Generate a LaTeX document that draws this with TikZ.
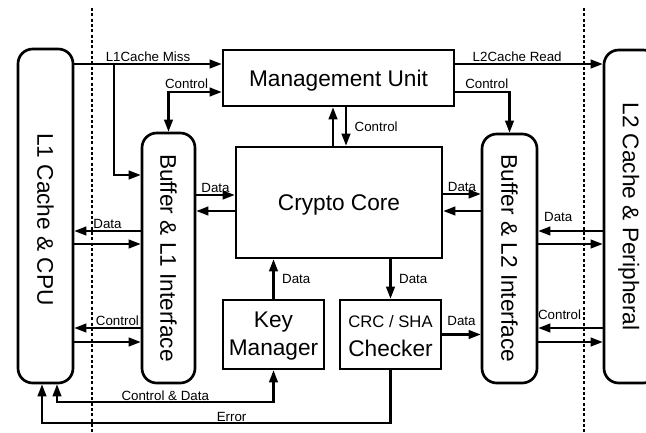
\documentclass[tikz,border=0pt]{standalone}
\usepackage{fontspec}
\setmainfont{Liberation Sans}
\usepackage{tikz}
\tikzset{
  every node/.style = {
    inner sep = 0pt,
    outer sep = 0pt
  }
}
\usetikzlibrary{
arrows.meta,
calc,
fit
}

\begin{document}
\begin{tikzpicture}[
        x = 0.75pt,
        y = -0.75pt,
        unit box/.style={
          draw,
          line width = 2pt,
          outer sep = 1pt,
        },
        rounded box/.style={
          unit box,
          rounded corners = 11pt,
        },
        big text/.style={
          font = \fontsize{17}{21}\selectfont,
        },
        big line/.style={
          big text,
          text depth = 0pt,
        },
        link label/.style={
          font = \fontsize{10}{12}\selectfont,
        },
        link/.style={
          line width = 1.6pt,
          -{Triangle[length=9pt,width=6.5pt]},
        },
        both link/.style={
          line width = 1.6pt,
          {Triangle[length=9pt,width=6.5pt]}-{Triangle[length=9pt,width=6.5pt]},
        },
        boundary/.style={
          line width = 2.2pt,
          dash pattern = on 2.2pt off 1.8pt,
        },
        ]
        \useasboundingbox (0,0) rectangle (646,432);
        \clip (0,0) rectangle (646,432);

        \draw [boundary] (92,8) -- (92,432);
        \draw [boundary] (584,8) -- (584,432);

        \node [rounded box, fit={(18,49) (73,383)}] (node-l1) {};
        \node [big line, rotate=-90] (node-l1-text) at ($(node-l1)+(0,3.5)$) {L1 Cache \& CPU};
        \node [rounded box, fit={(604,50) (658,383)}] (node-l2) {};
        \node [big line, rotate=-90] (node-l2-text) at (node-l2) {L2 Cache \& Peripheral};
        \node [rounded box, fit={(142,133) (195,383)}] (node-buf1) {};
        \node [big line, rotate=-90] (node-buf1-text) at (node-buf1) {Buffer \& L1 Interface};
        \node [rounded box, fit={(482,134) (537,383)}] (node-buf2) {};
        \node [big line, rotate=-90] (node-buf2-text) at (node-buf2) {Buffer \& L2 Interface};

        \node [unit box, fit={(223,50) (454,106)}] (node-mgmt) {};
        \node [big line] (node-mgmt-text) at (node-mgmt) {Management Unit};
        \node [unit box, fit={(236,147) (442,258)}] (node-core) {};
        \node [big line] (node-core-text) at (node-core) {Crypto Core};
        \node [unit box, fit={(223,300) (324,369)}] (node-key) {};
        \node [big text, align=center, yshift=-1.5pt] (node-key-text) at (node-key) {Key\\Manager};
        \node [unit box, fit={(340,300) (441,369)}] (node-check) {};
        \node [big text, align=center, yshift=-1pt] (node-check-text) at (node-check)
        {\mbox{\fontsize{12.5}{15}\selectfont CRC / SHA}\\[1pt]Checker};

        % management unit
        \draw [link] (node-l1.east |- 0,64) -- (node-mgmt.west |- 0,64)
        node [link label, midway, above=1.5pt] {L1Cache Miss};
        \coordinate (miss-split) at (114,64);
        \draw [link] (miss-split) |- (node-buf1.west |- 0,175);
        \draw [both link] (node-buf1.north) |- (node-mgmt.west |- 0,92)
        node [link label, pos=0.67, above=2.5pt] {Control};
        \draw [link] (node-core.north -| 333,0) -- (node-mgmt.south -| 333,0);
        \draw [link] (node-mgmt.south -| 346,0) -- (node-core.north -| 346,0)
        node [link label, midway, right=6.5pt] {Control};
        \draw [link] (node-mgmt.east |- 0,64) -- (node-l2.west |- 0,64)
        node [link label, pos=0.42, above=1.5pt] {L2Cache Read};
        \draw [link] (node-mgmt.east |- 0,92) -| (node-buf2.north)
        node [link label, pos=0.29, above=2.5pt] {Control};

        % crypto core
        \draw [link] (node-buf1.east |- 0,195) -- (node-core.west |- 0,195)
        node [link label, midway, above=2pt] {Data};
        \draw [link] (node-core.west |- 0,211) -- (node-buf1.east |- 0,211);
        \draw [link] (node-core.east |- 0,194) -- (node-buf2.west |- 0,194)
        node [link label, midway, above=2pt] {Data};
        \draw [link] (node-buf2.west |- 0,211) -- (node-core.east |- 0,211);
        \draw [link] (node-key.north) -- (node-core.south -| node-key.north)
        node [link label, midway, right=6.5pt] {Data};
        \draw [link] (node-core.south -| node-check.north) -- (node-check.north)
        node [link label, midway, right=6.5pt] {Data};
        \draw [link] (node-check.east) -- (node-buf2.west |- node-check.east)
        node [link label, midway, above=7pt] {Data};

        % L1 side
        \draw [link] (node-buf1.west |- 0,231) -- (node-l1.east |- 0,231)
        node [link label, midway, above=2pt] {Data};
        \draw [link] (node-l1.east |- 0,244) -- (node-buf1.west |- 0,244);
        \draw [link] (node-buf1.west |- 0,328) -- (node-l1.east |- 0,328)
        node [link label, pos=0.35, above=2pt] {Control};
        \draw [link] (node-l1.east |- 0,342) -- (node-buf1.west |- 0,342);

        % L2 side
        \draw [link] (node-l2.west |- 0,231) -- (node-buf2.east |- 0,231)
        node [link label, pos=0.69, above=7pt] {Data};
        \draw [link] (node-buf2.east |- 0,244) -- (node-l2.west |- 0,244);
        \draw [link] (node-l2.west |- 0,328) -- (node-buf2.east |- 0,328)
        node [link label, pos=0.67, above=6pt] {Control};
        \draw [link] (node-buf2.east |- 0,342) -- (node-l2.west |- 0,342);

        % key and error paths
        \draw [both link] (node-l1.south -| 57,0) |- (node-key.south |- 0,402)
        node [link label, pos=0.75, above=1pt] {Control \& Data}
        -- (node-key.south);
        \draw [link] (node-check.south) -- (node-check.south |- 0,423)
        -| (node-l1.south -| 42,0)
        node [link label, pos=0.228, above=1pt] {Error};
      \end{tikzpicture}
\end{document}
